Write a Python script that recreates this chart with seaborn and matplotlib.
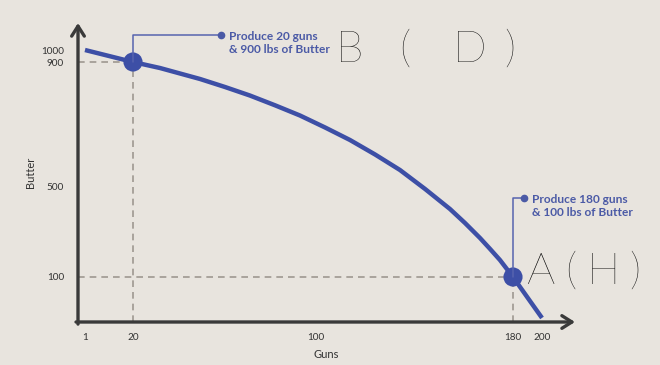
import numpy as np
import pandas as pd
import matplotlib
matplotlib.use("Agg")
import matplotlib.pyplot as plt
from matplotlib.lines import Line2D
import seaborn as sns

# ---------------- data ----------------
guns = [1, 20, 31.8, 49.3, 60.2, 71.1, 82.1, 93.0, 103.7, 113.8, 124.0, 134.1,
        144.3, 154.4, 160.5, 166.6, 170.7, 174.7, 180, 191.7, 200]
butter = [1000, 900, 880.6, 845.2, 819.4, 791.9, 760.3, 727.4, 688.7, 648.4, 601.6, 551.6,
          486.8, 398.9, 337.4, 271.4, 223.1, 174.7, 100, 46.7, 9]
point_guns = [20, 180]
point_butter = [900, 100]
point_labels = ["Produce 20 guns\n& 900 lbs of Butter",
                "Produce 180 guns\n& 100 lbs of Butter"]
x_ticks = [1, 20, 100, 180, 200]
y_ticks = [100, 500, 900, 1000]
x_label = "Guns"
y_label = "Butter"
scribble_b = ["B", "(", "D", ")"]
scribble_a = ["A", "(", "H", ")"]

# ---------------- style ----------------
BG = "#E8E4DE"
BLUE = "#3D4FA6"
TXTBLUE = "#4B5AA6"
AXC = "#3A3A3A"
DASH = "#9E9891"

sns.set_theme(style="white")
plt.rcParams["font.family"] = ["Lato", "DejaVu Sans"]

W, H, DPI = 660, 365, 100
fig = plt.figure(figsize=(W / DPI, H / DPI), dpi=DPI, facecolor=BG)
ax = fig.add_axes([78 / W, 1 - 322 / H, (575 - 78) / W, (322 - 23) / H])
ax.set_facecolor(BG)


def piecewise(vals, pix):
    vals = np.asarray(vals, float)
    pix = np.asarray(pix, float)

    def f(v, a, b):
        v = np.asarray(v, float)
        out = np.interp(v, a, b)
        s0 = (b[1] - b[0]) / (a[1] - a[0])
        s1 = (b[-1] - b[-2]) / (a[-1] - a[-2])
        out = np.where(v < a[0], b[0] + (v - a[0]) * s0, out)
        out = np.where(v > a[-1], b[-1] + (v - a[-1]) * s1, out)
        return out

    return (lambda v: f(v, vals, pix)), (lambda p: f(p, pix, vals))


# schematic (non-linear) axes, matching the reference's tick spacing
x_anchor_vals = [-2.0, 1, 20, 100, 180, 200, 223]
x_anchor_pix = [78, 85, 133, 316, 513, 542, 575]
y_anchor_vals = [0, 100, 500, 900, 1000, 1225]
y_anchor_pix = [0, 45, 136, 260, 272, 299]
ax.set_xscale("function", functions=piecewise(x_anchor_vals, x_anchor_pix))
ax.set_yscale("function", functions=piecewise(y_anchor_vals, y_anchor_pix))
ax.set_xlim(x_anchor_vals[0], x_anchor_vals[-1])
ax.set_ylim(y_anchor_vals[0], y_anchor_vals[-1])

curve = pd.DataFrame({"Guns": guns, "Butter": butter})
pts = pd.DataFrame({"Guns": point_guns, "Butter": point_butter})

# dashed guides
for gx, by in zip(point_guns, point_butter):
    ax.plot([x_anchor_vals[0], gx], [by, by], ls=(0, (4, 3)), color=DASH, lw=1.2, zorder=1)
    ax.plot([gx, gx], [y_anchor_vals[0], by], ls=(0, (4, 3)), color=DASH, lw=1.2, zorder=1)

sns.lineplot(data=curve, x="Guns", y="Butter", ax=ax, color=BLUE, lw=3.2,
             sort=False, zorder=3, solid_capstyle="butt", solid_joinstyle="round")
sns.scatterplot(data=pts, x="Guns", y="Butter", ax=ax, color=BLUE, s=190,
                edgecolor="none", zorder=4)

# axes styling
for s in ax.spines.values():
    s.set_visible(False)
ax.set_xticks(x_ticks)
ax.set_xticklabels([str(t) for t in x_ticks])
ax.set_yticks(y_ticks)
ax.set_yticklabels([str(t) for t in y_ticks])
ax.minorticks_off()
ax.tick_params(axis="both", direction="out", length=5, width=2.4, color=AXC,
               labelsize=7.2, labelcolor="#333333", pad=3)
ax.tick_params(axis="y", length=7)
ax.set_xlabel(x_label, fontsize=8, color="#333333", labelpad=5)
ax.set_ylabel(y_label, fontsize=8, color="#333333", labelpad=4)

ax.annotate("", xy=(1, 0), xytext=(-0.004, 0), xycoords="axes fraction",
            arrowprops=dict(arrowstyle="->,head_length=0.6,head_width=0.38",
                            lw=2.4, color=AXC, shrinkA=0, shrinkB=0))
ax.annotate("", xy=(0, 1), xytext=(0, -0.007), xycoords="axes fraction",
            arrowprops=dict(arrowstyle="->,head_length=0.6,head_width=0.38",
                            lw=2.4, color=AXC, shrinkA=0, shrinkB=0))

# leader lines + labels (offsets in pixels)
fig.canvas.draw()
leaders = [(-27, 88), (-79, 11)]
for (gx, by), (dy, dx), lab in zip(zip(point_guns, point_butter), leaders, point_labels):
    px, py = ax.transData.transform((gx, by))
    ty = py - dy
    fig.add_artist(Line2D([px, px, px + dx], [py, ty, ty], transform=None,
                          color="#5663AE", lw=1.1, zorder=5))
    fig.add_artist(Line2D([px + dx], [ty], transform=None, marker="o", ms=4.5,
                          color=TXTBLUE, zorder=5))
    fig.text((px + dx + 8) / W, (ty - 8) / H, lab, ha="left", va="center",
             fontsize=8.6, fontweight="bold", color=TXTBLUE, linespacing=1.3)

# handwritten marks (rendered as thin text), centres in pixels
b_centres = [350, 405, 470, 510]
a_centres = [540, 571, 604, 635]
for ch, cx in zip(scribble_b, b_centres):
    fig.text(cx / W, 1 - 62 / H, ch, ha="center", va="baseline",
             fontsize=32, fontweight="light", color="black")
for ch, cx in zip(scribble_a, a_centres):
    fig.text(cx / W, 1 - 284 / H, ch, ha="center", va="baseline",
             fontsize=32, fontweight="light", color="black")

fig.savefig("out.png", dpi=DPI, facecolor=BG)
